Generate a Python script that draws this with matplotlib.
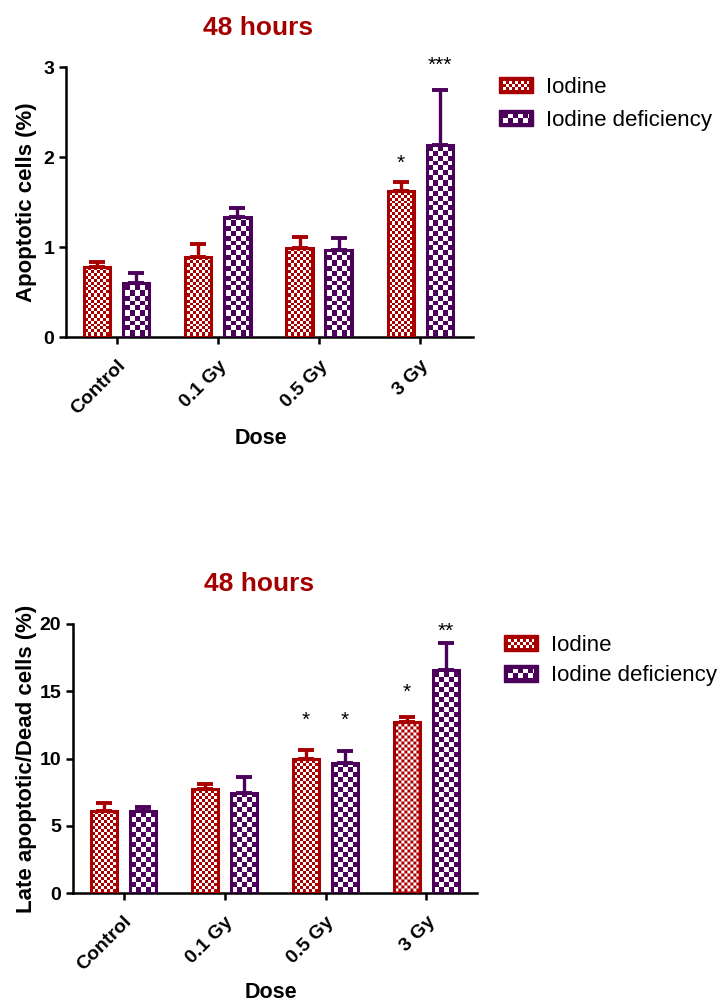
import numpy as np
import matplotlib
matplotlib.use("Agg")
import matplotlib.pyplot as plt
from matplotlib.patches import Rectangle, PathPatch
from matplotlib.path import Path
from matplotlib.legend_handler import HandlerPatch

plt.rcParams['font.family'] = ['Liberation Sans', 'DejaVu Sans']

# ---- datos ----
doses = ['Control', '0.1 Gy', '0.5 Gy', '3 Gy']
series = ['Iodine', 'Iodine deficiency']

apo_iodine = [0.78, 0.89, 0.99, 1.62]
apo_iodine_err = [0.05, 0.14, 0.12, 0.10]
apo_def = [0.60, 1.33, 0.97, 2.13]
apo_def_err = [0.11, 0.10, 0.13, 0.61]
apo_sig_iodine = ['', '', '', '*']
apo_sig_def = ['', '', '', '***']

late_iodine = [6.1, 7.73, 10.0, 12.7]
late_iodine_err = [0.6, 0.37, 0.65, 0.4]
late_def = [6.1, 7.45, 9.65, 16.6]
late_def_err = [0.3, 1.15, 0.9, 2.0]
late_sig_iodine = ['', '', '*', '*']
late_sig_def = ['', '', '*', '**']

RED = '#A80000'
PURPLE = '#4B005A'
TITLE_RED = '#A50000'


def checker_rects(x0, y0, x1, y1, cell):
    # cuadros blancos del tablero, recortados al rectangulo
    verts, codes = [], []
    nx = int(np.ceil((x1 - x0) / cell))
    ny = int(np.ceil((y1 - y0) / cell))
    for i in range(nx):
        for j in range(ny):
            if (i + j) % 2:
                continue
            a = x0 + i * cell
            b = y0 + j * cell
            c = min(a + cell, x1)
            d = min(b + cell, y1)
            verts += [(a, b), (c, b), (c, d), (a, d), (a, b)]
            codes += [Path.MOVETO, Path.LINETO, Path.LINETO, Path.LINETO, Path.CLOSEPOLY]
    return np.array(verts), codes


def add_checker(ax, bars, cell_px, inset_px=1.5):
    inv = ax.transData.inverted()
    for b in bars:
        (x0, y0), (x1, y1) = ax.transData.transform(
            [(b.get_x(), b.get_y()), (b.get_x() + b.get_width(), b.get_y() + b.get_height())])
        x0, y0, x1, y1 = x0 + inset_px, y0 + inset_px, x1 - inset_px, y1 - inset_px
        if x1 <= x0 or y1 <= y0:
            continue
        v, c = checker_rects(x0, y0, x1, y1, cell_px)
        if len(v) == 0:
            continue
        p = PathPatch(Path(inv.transform(v), c), facecolor='white', edgecolor='none',
                      zorder=2.5, transform=ax.transData)
        ax.add_patch(p)


class CheckerHandler(HandlerPatch):
    def __init__(self, cell):
        super().__init__()
        self.cell = cell

    def create_artists(self, legend, orig_handle, xdescent, ydescent, width, height, fontsize, trans):
        col = orig_handle.get_facecolor()
        x0, y0 = -xdescent, -ydescent
        rect = Rectangle((x0, y0), width, height, facecolor=col, edgecolor=col, lw=1.0, transform=trans)
        v, c = checker_rects(x0 + 2.6, y0 + 2.6, x0 + width - 2.6, y0 + height - 2.6, self.cell)
        sq = PathPatch(Path(v, c), facecolor='white', edgecolor='none', transform=trans)
        return [rect, sq]


def panel(ax, iod, iod_err, dfc, dfc_err, sig_i, sig_d, sig_y_i, sig_y_d, ymax, yticks, ylabel, xlim_r):
    x = np.arange(len(doses))
    w = 0.26
    off = 0.193
    ax.set_xlim(-0.5, xlim_r)
    ax.set_ylim(0, ymax)

    b1 = ax.bar(x - off, iod, w, color=RED, edgecolor=RED, lw=0, zorder=2)
    b2 = ax.bar(x + off, dfc, w, color=PURPLE, edgecolor=PURPLE, lw=0, zorder=2)
    add_checker(ax, b1, 3.0)
    add_checker(ax, b2, 5.0)
    ax.bar(x - off, iod, w, facecolor='none', edgecolor=RED, lw=2.2, zorder=3)
    ax.bar(x + off, dfc, w, facecolor='none', edgecolor=PURPLE, lw=2.2, zorder=3)

    ax.errorbar(x - off, iod, yerr=[np.zeros(len(iod)), iod_err], fmt='none', ecolor=RED,
                elinewidth=2.4, capsize=6, capthick=2.8, zorder=1.5)
    ax.errorbar(x + off, dfc, yerr=[np.zeros(len(dfc)), dfc_err], fmt='none', ecolor=PURPLE,
                elinewidth=2.4, capsize=6, capthick=2.8, zorder=1.5)

    for i in range(len(doses)):
        if sig_i[i]:
            ax.text(x[i] - off, sig_y_i[i], sig_i[i], ha='center', va='center', fontsize=15, clip_on=False)
        if sig_d[i]:
            ax.text(x[i] + off, sig_y_d[i], sig_d[i], ha='center', va='center', fontsize=15, clip_on=False)

    for s in ['top', 'right']:
        ax.spines[s].set_visible(False)
    for s in ['left', 'bottom']:
        ax.spines[s].set_linewidth(1.8)
    ax.tick_params(width=1.8, length=5, direction='out', labelsize=14)
    ax.tick_params(axis='x', pad=9.5)
    ax.set_yticks(yticks)
    ax.set_xticks(x)
    ax.set_xticklabels(doses, rotation=45, ha='right', rotation_mode='anchor', fontweight='bold', fontsize=14)
    for t in ax.get_yticklabels():
        t.set_fontweight('bold')
    ax.set_xlabel('Dose', fontsize=15.5, fontweight='bold')
    ax.set_ylabel(ylabel, fontsize=16, fontweight='bold')

    handles = [Rectangle((0, 0), 1, 1, facecolor=RED), Rectangle((0, 0), 1, 1, facecolor=PURPLE)]
    return handles


fig = plt.figure(figsize=(7.21, 10.01), dpi=100)

ax1 = fig.add_axes([66 / 721, 1 - 337 / 1001, 407 / 721, 270 / 1001])
h = panel(ax1, apo_iodine, apo_iodine_err, apo_def, apo_def_err, apo_sig_iodine, apo_sig_def,
          [1.935, 0, 0, 1.935], [0, 0, 0, 3.015], 3, [0, 1, 2, 3], 'Apoptotic cells (%)', 3.52)
ax1.xaxis.set_label_coords(0.48, -0.337)
ax1.yaxis.set_label_coords(-0.072, 0.5)
fig.text(258 / 721, 1 - 28 / 1001, '48 hours', ha='center', va='center', fontsize=19,
         fontweight='bold', color=TITLE_RED)
ax1.legend(h, series, loc='upper left', bbox_to_anchor=(499 / 721, 1 - 77 / 1001),
           bbox_transform=fig.transFigure, frameon=False, fontsize=16, borderpad=0,
           borderaxespad=0, handlelength=1.53, handleheight=0.76, handletextpad=0.6,
           labelspacing=0.54,
           handler_map={h[0]: CheckerHandler(2.2), h[1]: CheckerHandler(3.6)})

ax2 = fig.add_axes([73 / 721, 1 - 893 / 1001, 404 / 721, 269 / 1001])
h2 = panel(ax2, late_iodine, late_iodine_err, late_def, late_def_err, late_sig_iodine, late_sig_def,
           [0, 0, 12.85, 14.95], [0, 0, 12.85, 19.45], 20, [0, 5, 10, 15, 20],
           'Late apoptotic/Dead cells (%)', 3.5)
ax2.xaxis.set_label_coords(0.49, -0.33)
ax2.yaxis.set_label_coords(-0.089, 0.5)
fig.text(259 / 721, 1 - 584 / 1001, '48 hours', ha='center', va='center', fontsize=19,
         fontweight='bold', color=TITLE_RED)
ax2.legend(h2, series, loc='upper left', bbox_to_anchor=(504 / 721, 1 - 635 / 1001),
           bbox_transform=fig.transFigure, frameon=False, fontsize=16, borderpad=0,
           borderaxespad=0, handlelength=1.53, handleheight=0.76, handletextpad=0.6,
           labelspacing=0.42,
           handler_map={h2[0]: CheckerHandler(2.2), h2[1]: CheckerHandler(3.6)})

fig.savefig('out.png', dpi=100)
